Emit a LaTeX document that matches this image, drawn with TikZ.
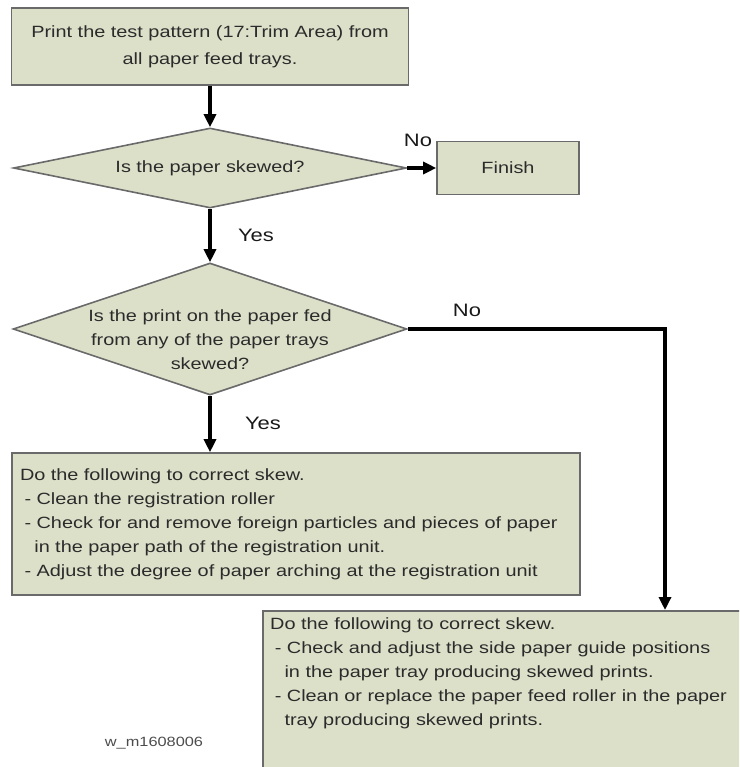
\documentclass[tikz,border=0pt]{standalone}
\usepackage{fontspec}
\setmainfont{Liberation Sans}[FakeStretch=1.22]
\usetikzlibrary{arrows.meta, positioning, shapes.geometric}
\definecolor{SkewFill}{HTML}{DDE0C9}
\definecolor{SkewEdge}{HTML}{6A6A6A}
\definecolor{SkewText}{HTML}{2B2B2B}
\tikzset{
  every node/.style = {font=\fontsize{16.3}{24}\selectfont, text=SkewText},
  procbox/.style = {
    draw=SkewEdge,
    fill=SkewFill,
    line width=1.6pt,
    inner sep=0pt
  },
  decision/.style = {procbox, diamond},
  flow/.style = {-{Triangle[length=13pt,width=12pt]}, draw=black, line width=3.2pt},
  flowlabel/.style = {font=\fontsize{18}{20}\selectfont, text=black!90, inner sep=0pt},
  bodytext/.style = {align=left, inner sep=0pt},
  figtag/.style = {font=\fontsize{13.4}{16}\selectfont, text=black!70, inner sep=0pt}
}

\begin{document}
\begin{tikzpicture}[x=1pt,y=-1pt]
  \clip (0,0) rectangle (739,767);

  % flow boxes
  \node[procbox, minimum width=397pt, minimum height=77pt, align=center,
        font=\fontsize{16.3}{27}\selectfont] (print) at (210,46.5)
    {Print the test pattern (17:Trim Area) from\\all paper feed trays.};
  \node[decision, minimum width=393pt, minimum height=80pt] (skewed) at (210,168) {};
  \node[inner sep=0pt] (skewedtxt) at (skewed.center) {Is the paper skewed?};
  \node[procbox, minimum width=142pt, minimum height=53pt] (finish) at (508,168) {Finish};
  \node[decision, minimum width=394pt, minimum height=132pt] (traychk) at (210,329) {};
  \node[align=center, inner sep=0pt] (traychktxt) at ([yshift=-11pt]traychk.center)
    {Is the print on the paper fed\\from any of the paper trays\\skewed?};

  \node[procbox, minimum width=568pt, minimum height=142pt, text width=552pt,
        inner xsep=8pt, align=left] (cleanreg) at (296,524)
    {Do the following to correct skew.\\
     \hspace*{0.28em}- Clean the registration roller\\
     \hspace*{0.28em}- Check for and remove foreign particles and pieces of paper\\
     \hspace*{0.88em}in the paper path of the registration unit.\\
     \hspace*{0.28em}- Adjust the degree of paper arching at the registration unit};

  \node[procbox, minimum width=560pt, minimum height=220pt, anchor=north west] (feedtray) at (262,610) {};
  \node[bodytext, anchor=north west] (feedtraytxt) at ([xshift=8pt,yshift=-7pt]feedtray.north west)
    {Do the following to correct skew.\\
     \hspace*{0.28em}- Check and adjust the side paper guide positions\\
     \hspace*{0.88em}in the paper tray producing skewed prints.\\
     \hspace*{0.28em}- Clean or replace the paper feed roller in the paper\\
     \hspace*{0.88em}tray producing skewed prints.};

  % connectors
  \draw[flow] (print) -- (skewed);
  \draw[flow] (skewed) -- (finish);
  \draw[flow] (skewed) -- (traychk);
  \draw[flow] (traychk) -- (traychk.south |- cleanreg.north);
  \coordinate (turn) at (665,329);
  \draw[flow] (traychk.east) -- (turn) -- (turn |- feedtray.north);

  \node[flowlabel] (nofinish) at (418,140) {No};
  \node[flowlabel] (yestray) at (256,235) {Yes};
  \node[flowlabel] (nofeed) at (467,310) {No};
  \node[flowlabel] (yesreg) at (263,423) {Yes};

  \node[figtag] (figid) at (154,743) {w\_m1608006};
\end{tikzpicture}
\end{document}
